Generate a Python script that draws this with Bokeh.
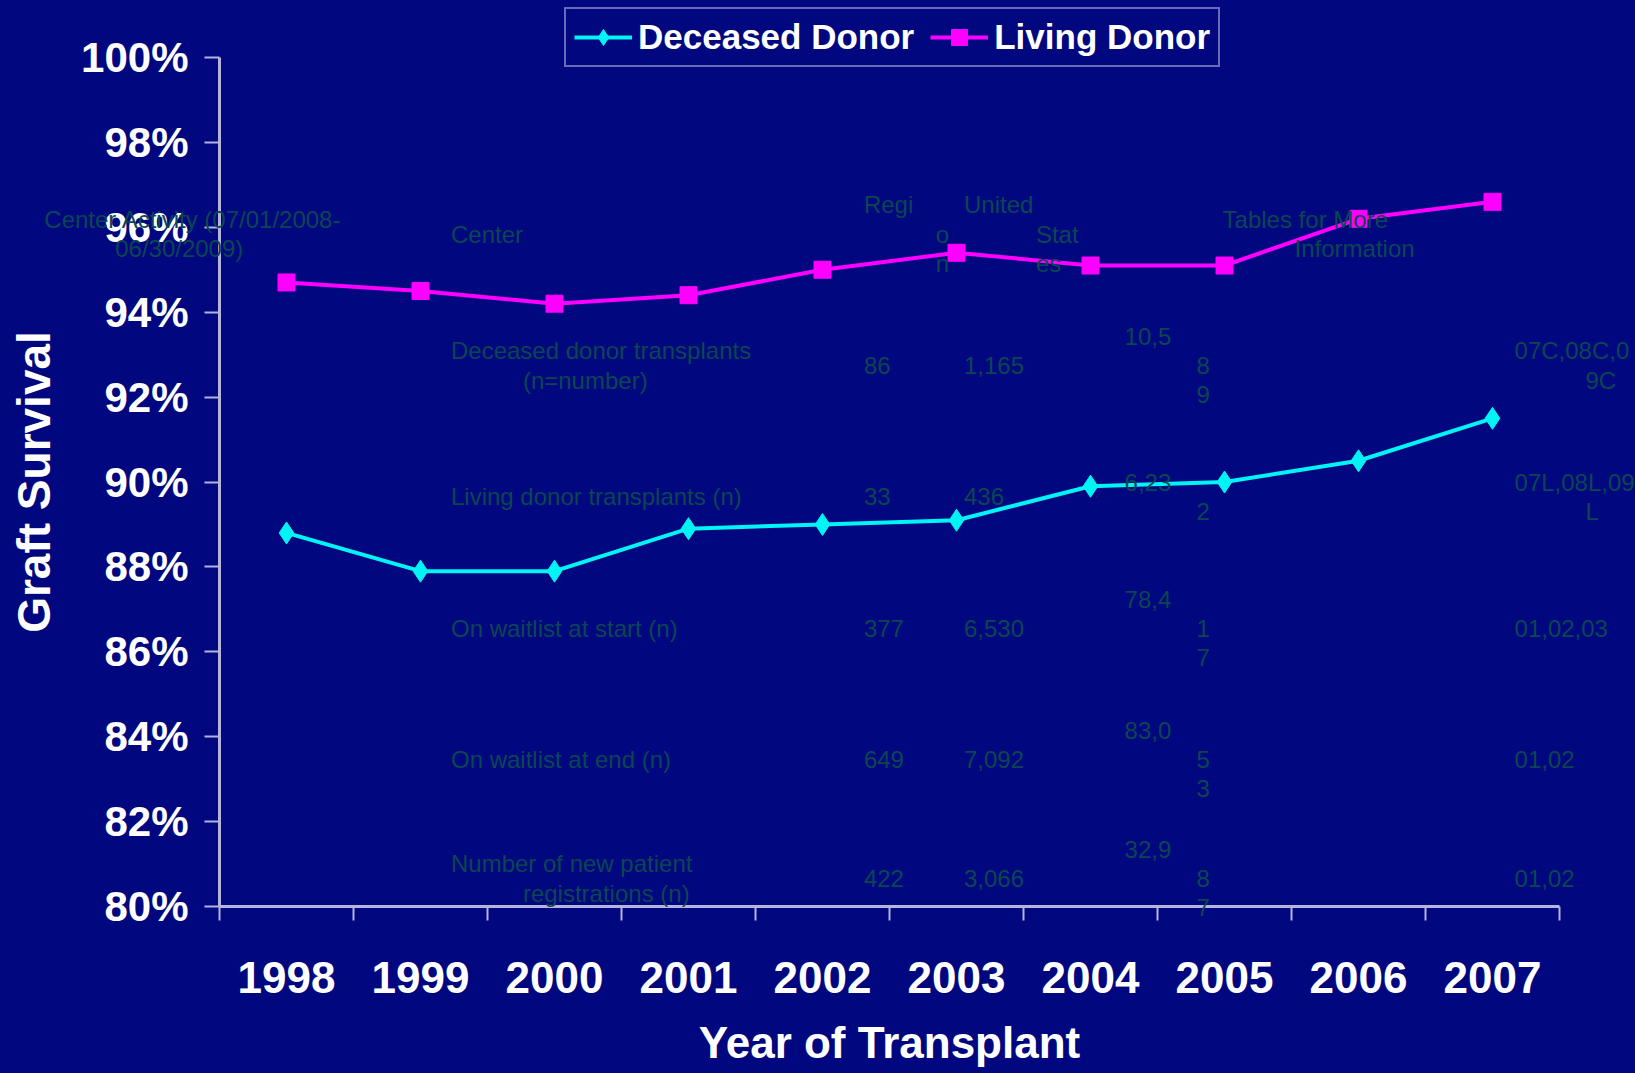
from bokeh.plotting import figure
from bokeh.models import (FixedTicker, NumeralTickFormatter, Range1d, BasicTickFormatter,
                          Legend, LegendItem, ColumnDataSource)
from bokeh.embed import file_html
from bokeh.resources import INLINE

# ---------------- data ----------------
years = [1998, 1999, 2000, 2001, 2002, 2003, 2004, 2005, 2006, 2007]
deceased = [0.888, 0.879, 0.879, 0.889, 0.890, 0.891, 0.899, 0.900, 0.905, 0.915]
living = [0.947, 0.945, 0.942, 0.944, 0.950, 0.954, 0.951, 0.951, 0.962, 0.966]
y_ticks = [0.80, 0.82, 0.84, 0.86, 0.88, 0.90, 0.92, 0.94, 0.96, 0.98, 1.00]
series_names = ["Deceased Donor", "Living Donor"]

# overlaid (bleed-through) table text, as wrapped pieces
overlay_text = [
    "Center Activity (07/01/2008-", "06/30/2009)", "Center", "Regi", "o", "n",
    "United", "Stat", "es", "Tables for More", "Information",
    "Deceased donor transplants", "(n=number)", "86", "1,165", "10,5", "8", "9",
    "07C,08C,0", "9C",
    "Living donor transplants (n)", "33", "436", "6,23", "2", "07L,08L,09", "L",
    "On waitlist at start (n)", "377", "6,530", "78,4", "1", "7", "01,02,03",
    "On waitlist at end (n)", "649", "7,092", "83,0", "5", "3", "01,02",
    "Number of new patient", "registrations (n)", "422", "3,066", "32,9", "8", "7", "01,02",
]

# ---------------- layout ----------------
W, H = 1635, 1073
FL, FR, FT, FB = 219, 1559, 57, 906
S = 1635 / 1568.0
overlay_pos = [  # (left, middle) in reference display pixels
    (42, 210), (110, 238), (432, 224), (828, 196), (897, 224), (897, 252),
    (924, 196), (993, 224), (993, 252), (1172, 210), (1241, 238),
    (432, 336), (501, 364), (828, 350), (924, 350), (1078, 322), (1147, 350), (1147, 378),
    (1452, 336), (1520, 364),
    (432, 476), (828, 476), (924, 476), (1078, 462), (1147, 490), (1452, 462), (1520, 490),
    (432, 602), (828, 602), (924, 602), (1078, 574), (1147, 602), (1147, 630), (1452, 602),
    (432, 728), (828, 728), (924, 728), (1078, 700), (1147, 728), (1147, 756), (1452, 728),
    (432, 828), (501, 856), (828, 842), (924, 842), (1078, 814), (1147, 842), (1147, 870), (1452, 842),
]
LEG_L, LEG_B = 564, 67   # legend box left / bottom on the canvas

BG = "#01077e"
AXIS_C = "#b4b4dc"
TABLE_C = "#0a4652"
FONT = "Liberation Sans"
C_DEC = "#00f4f4"
C_LIV = "#ff00ff"

X0, X1 = years[0] - 0.5, years[-1] + 0.5
Y0, Y1 = 0.80, 1.00

p = figure(width=W, height=H, output_backend="svg", toolbar_location=None,
           x_range=Range1d(X0, X1), y_range=Range1d(Y0, Y1),
           min_border_left=FL, min_border_right=W - FR,
           min_border_top=FT, min_border_bottom=H - FB,
           background_fill_color=BG, border_fill_color=BG, title=None)
p.outline_line_color = None
p.styles = {"background-color": BG}
p.xgrid.visible = False
p.ygrid.visible = False

# lines + markers
p.line(years, deceased, line_color=C_DEC, line_width=4)
p.scatter(years, deceased, marker="diamond", size=22, fill_color=C_DEC, line_color=C_DEC)
p.line(years, living, line_color=C_LIV, line_width=4)
p.scatter(years, living, marker="square", size=17, fill_color=C_LIV, line_color=C_LIV)

# x axis
xa = p.xaxis[0]
xa.ticker = FixedTicker(ticks=years, minor_ticks=[y - 0.5 for y in years] + [years[-1] + 0.5])
xa.formatter = BasicTickFormatter(use_scientific=False)
xa.major_tick_out = 0
xa.major_tick_in = 0
xa.minor_tick_out = 14
xa.minor_tick_in = 0
xa.axis_line_color = AXIS_C
xa.axis_line_width = 3
xa.minor_tick_line_color = AXIS_C
xa.minor_tick_line_width = 2
xa.major_label_text_color = "white"
xa.major_label_text_font = FONT
xa.major_label_text_font_style = "bold"
xa.major_label_text_font_size = "44px"
xa.major_label_standoff = 41
xa.axis_label = "Year of Transplant"
xa.axis_label_text_color = "white"
xa.axis_label_text_font = FONT
xa.axis_label_text_font_style = "bold"
xa.axis_label_text_font_size = "44px"
xa.axis_label_standoff = 22

# y axis
ya = p.yaxis[0]
ya.ticker = FixedTicker(ticks=y_ticks, minor_ticks=[])
ya.formatter = NumeralTickFormatter(format="0%")
ya.major_tick_out = 15
ya.major_tick_in = 0
ya.minor_tick_out = 0
ya.minor_tick_in = 0
ya.axis_line_color = AXIS_C
ya.axis_line_width = 3
ya.major_tick_line_color = AXIS_C
ya.major_tick_line_width = 2
ya.major_label_text_color = "white"
ya.major_label_text_font = FONT
ya.major_label_text_font_style = "bold"
ya.major_label_text_font_size = "42px"
ya.major_label_standoff = 16
ya.axis_label = "Graft Survival"
ya.axis_label_text_color = "white"
ya.axis_label_text_font = FONT
ya.axis_label_text_font_style = "bold"
ya.axis_label_text_font_size = "46px"
ya.axis_label_standoff = 18

# ---- overlay figure (transparent, full canvas): legend + bleed-through table text ----
ov = figure(width=W, height=H, output_backend="svg", toolbar_location=None,
            x_range=Range1d(0, W), y_range=Range1d(H, 0),
            x_axis_type=None, y_axis_type=None, title=None,
            min_border=0, background_fill_alpha=0, border_fill_alpha=0)
ov.outline_line_color = None
ov.xgrid.visible = False
ov.ygrid.visible = False

# legend swatch carriers: same series/styling; their data lies off this canvas's pixel range
k1 = ov.line(years, deceased, line_color=C_DEC, line_width=4)
d1 = ov.scatter(years, deceased, marker="diamond", fill_color=C_DEC, line_color=C_DEC)
k2 = ov.line(years, living, line_color=C_LIV, line_width=4)
d2 = ov.scatter(years, living, marker="square", fill_color=C_LIV, line_color=C_LIV)
legend = Legend(items=[LegendItem(label=series_names[0], renderers=[k1, d1]),
                       LegendItem(label=series_names[1], renderers=[k2, d2])],
                location=(LEG_L, H - LEG_B), orientation="horizontal",
                label_text_color="white", label_text_font=FONT,
                label_text_font_style="bold", label_text_font_size="35px",
                border_line_color="#d0d0f0", border_line_width=2,
                background_fill_color=BG, background_fill_alpha=1.0,
                glyph_width=58, glyph_height=40, label_standoff=6,
                spacing=16, padding=8, margin=0)
ov.add_layout(legend, "center")

src = ColumnDataSource(dict(x=[q[0] * S for q in overlay_pos],
                            y=[q[1] * S for q in overlay_pos],
                            t=overlay_text))
ov.text(x="x", y="y", text="t", source=src, text_color=TABLE_C,
        text_font={"value": "Liberation Sans"}, text_font_size="24px",
        text_align="left", text_baseline="middle")
ov.styles = {"position": "absolute", "left": "0px", "top": "0px",
             "pointer-events": "none", "z-index": "10"}

open("out.html", "w").write(file_html([p, ov], INLINE))
